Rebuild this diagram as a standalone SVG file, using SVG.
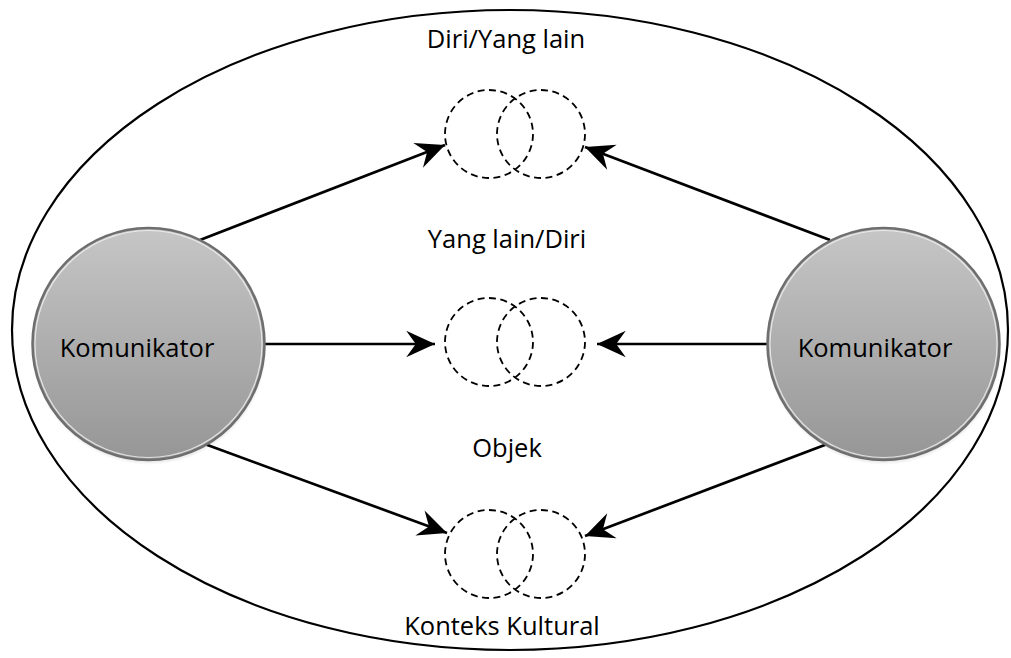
<svg xmlns="http://www.w3.org/2000/svg" width="1011" height="658" viewBox="0 0 1011 658">
  <style>
    .lbl { font-family: "Open Sans", "Liberation Sans", sans-serif; font-size: 25.5px; fill: #000; text-anchor: middle; }
    .outer { fill: none; stroke: #000; stroke-width: 2.2; }
    .dash { fill: none; stroke: #000; stroke-width: 1.8; stroke-dasharray: 7 4.5; }
    .conn { fill: none; stroke: #000; stroke-width: 2.7; marker-end: url(#arrow); }
    .node { fill: url(#grad); stroke: #6e6e6e; stroke-width: 2.5; }
    .hl { fill: none; stroke: #f2f2f2; stroke-width: 1.2; opacity: 0.8; }
  </style>
  <defs>
    <linearGradient id="grad" x1="0" y1="0" x2="0" y2="1">
      <stop offset="0" stop-color="#c6c6c6"/>
      <stop offset="1" stop-color="#969696"/>
    </linearGradient>
    <radialGradient id="shadow" cx="0.5" cy="0.5" r="0.5">
      <stop offset="0.9" stop-color="#000" stop-opacity="0.25"/>
      <stop offset="1" stop-color="#000" stop-opacity="0"/>
    </radialGradient>
    <marker id="arrow" markerUnits="userSpaceOnUse" markerWidth="32" markerHeight="30" viewBox="-28 -13 30 26" refX="0" refY="0" orient="auto">
      <path d="M0,0 L-27,-12.5 L-18,0 L-27,12.5 Z" fill="#000"/>
    </marker>
  </defs>

  <g id="boundary">
    <ellipse class="outer" cx="510" cy="330" rx="498" ry="320"/>
  </g>

  <g id="connectors">
    <line class="conn" x1="200" y1="240" x2="445" y2="145"/>
    <line class="conn" x1="830" y1="240" x2="585" y2="147"/>
    <line class="conn" x1="265" y1="344" x2="435" y2="344"/>
    <line class="conn" x1="767" y1="344" x2="597" y2="344"/>
    <line class="conn" x1="202" y1="443" x2="447" y2="533"/>
    <line class="conn" x1="830" y1="443" x2="585" y2="536"/>
  </g>

  <g id="komunikator-left">
    <circle cx="149" cy="347" r="118" fill="url(#shadow)"/>
    <circle class="node" cx="148.5" cy="344" r="116"/>
    <circle class="hl" cx="148.5" cy="344" r="113.5"/>
    <text class="lbl" x="137" y="357">Komunikator</text>
  </g>

  <g id="komunikator-right">
    <circle cx="884" cy="347" r="118" fill="url(#shadow)"/>
    <circle class="node" cx="883.5" cy="344" r="116"/>
    <circle class="hl" cx="883.5" cy="344" r="113.5"/>
    <text class="lbl" x="875" y="357">Komunikator</text>
  </g>

  <g id="diri-yang-lain">
    <text class="lbl" x="506" y="48">Diri/Yang lain</text>
    <circle class="dash" cx="489" cy="134" r="44"/>
    <circle class="dash" cx="541" cy="134" r="44"/>
  </g>

  <g id="yang-lain-diri">
    <text class="lbl" x="507" y="248">Yang lain/Diri</text>
    <circle class="dash" cx="489" cy="342" r="44"/>
    <circle class="dash" cx="541" cy="342" r="44"/>
  </g>

  <g id="objek">
    <text class="lbl" x="507" y="457">Objek</text>
    <circle class="dash" cx="489" cy="554" r="44"/>
    <circle class="dash" cx="541" cy="554" r="44"/>
  </g>

  <g id="konteks-kultural">
    <text class="lbl" x="502" y="635">Konteks Kultural</text>
  </g>
</svg>
